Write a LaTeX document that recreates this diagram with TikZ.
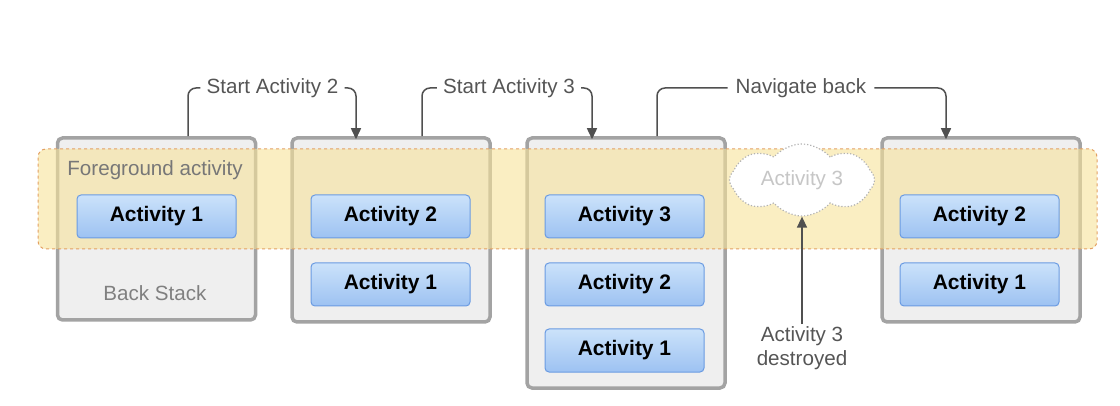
\documentclass[tikz,border=0pt]{standalone}
\usepackage{fontspec}
\setmainfont{Liberation Sans}
\usetikzlibrary{shapes.symbols,arrows.meta}
\definecolor{stackfill}{HTML}{EFEFEF}
\definecolor{stackline}{HTML}{A3A3A3}
\definecolor{bandfill}{HTML}{F7E39A}
\definecolor{bandline}{HTML}{E3A063}
\definecolor{actline}{HTML}{6A9BE2}
\definecolor{acttop}{HTML}{CBE2FA}
\definecolor{actbot}{HTML}{9DC2F2}
\definecolor{labtext}{HTML}{555555}
\definecolor{conncol}{HTML}{505050}
\tikzset{
  stackbox/.style={draw=stackline, line width=3.5pt, fill=stackfill, rounded corners=5pt, minimum width=198pt},
  band/.style={draw=bandline, dashed, line width=1pt, fill=bandfill, fill opacity=0.6, rounded corners=8pt, minimum width=1059pt, minimum height=100pt},
  actbox/.style={draw=actline, line width=1pt, top color=acttop, bottom color=actbot, rounded corners=4pt, minimum width=159pt, minimum height=43pt, font=\fontsize{21}{24}\selectfont\bfseries, text=black},
  lab/.style={font=\fontsize{20.6}{24}\selectfont, text=labtext, inner sep=2pt},
  conn/.style={draw=conncol, line width=1.5pt, rounded corners=8pt},
  arr/.style={conn, -{Triangle[length=11pt,width=10pt]}},
}
\begin{document}
\begin{tikzpicture}[x=1pt,y=-1pt]
\useasboundingbox (0,0) rectangle (1120,406);
% stacks
\node[stackbox, minimum height=182pt] (s1) at (156.5,229) {};
\node[stackbox, minimum height=184pt] (s2) at (391,230) {};
\node[stackbox, minimum height=250pt] (s3) at (626,263) {};
\node[stackbox, minimum height=184pt] (s4) at (981,230) {};
% band
\node[band] (bd) at (567.5,199) {};
\node[lab, text=labtext!80] (fg) at (155,170) {Foreground activity};
\node[lab, text=labtext!75] (bs) at (155,293) {Back Stack};
% activities
\node[actbox] (a11) at (156.5,216.5) {Activity 1};
\node[actbox] (a22) at (390.5,216.5) {Activity 2};
\node[actbox] (a21) at (390.5,284.5) {Activity 1};
\node[actbox] (a33) at (624.5,216.5) {Activity 3};
\node[actbox] (a32) at (624.5,284.5) {Activity 2};
\node[actbox] (a31) at (624.5,350.5) {Activity 1};
\node[actbox] (a42) at (979.5,216.5) {Activity 2};
\node[actbox] (a41) at (979.5,284.5) {Activity 1};
% cloud
\node[cloud, cloud puffs=8, cloud puff arc=100, aspect=2.1, draw=gray!60, dotted, line width=1.2pt, fill=white, minimum width=145pt, minimum height=70pt, lab, text=gray!45, inner sep=0pt] (cl) at (802,180) {Activity 3};
% labels
\node[lab] (l1) at (272.5,88) {Start Activity 2};
\node[lab] (l2) at (509,88) {Start Activity 3};
\node[lab] (l3) at (801,88) {Navigate back};
\node[lab, align=center, font=\fontsize{20.6}{24}\selectfont] (l4) at (802,348) {Activity 3\\destroyed};
% connectors
\coordinate (c1) at (188,0);
\coordinate (c2) at (356,0);
\coordinate (c3) at (422,0);
\coordinate (c4) at (592,0);
\coordinate (c5) at (657,0);
\coordinate (c6) at (946,0);
\draw[conn] (c1 |- s1.north) |- ([xshift=-4pt]l1.west);
\draw[arr] ([xshift=4pt]l1.east) -| ([yshift=-3pt]c2 |- s2.north);
\draw[conn] (c3 |- s2.north) |- ([xshift=-4pt]l2.west);
\draw[arr] ([xshift=4pt]l2.east) -| ([yshift=-3pt]c4 |- s3.north);
\draw[conn] (c5 |- s3.north) |- ([xshift=-6pt]l3.west);
\draw[arr] ([xshift=6pt]l3.east) -| ([yshift=-3pt]c6 |- s4.north);
\draw[arr] (l4.north) -- (cl.south);
\end{tikzpicture}
\end{document}
